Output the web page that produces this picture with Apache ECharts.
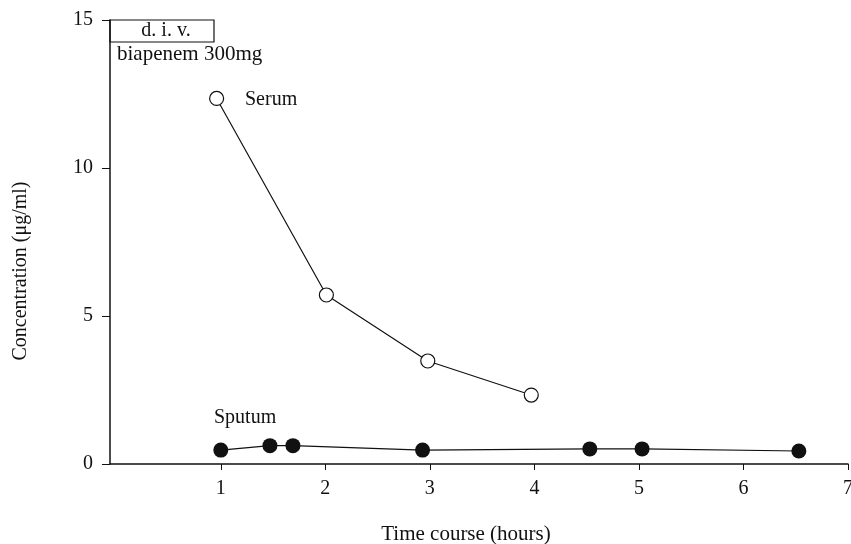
<!DOCTYPE html>
<html><head><meta charset="utf-8">
<script src="https://cdn.jsdelivr.net/npm/echarts@6/dist/echarts.min.js"></script>
<style>html,body{margin:0;padding:0;background:#fff}#c{width:851px;height:544px}</style>
</head><body><div id="c"></div>
<script>
const serumX = [0.96, 2.01, 2.98, 3.97];
const serumY = [12.35, 5.71, 3.48, 2.33];
const sputumX = [1.0, 1.47, 1.69, 2.93, 4.53, 5.03, 6.53];
const sputumY = [0.47, 0.62, 0.62, 0.47, 0.51, 0.51, 0.44];
const xTicks = [1, 2, 3, 4, 5, 6, 7];
const yTicks = [0, 5, 10, 15];

const font = 'Liberation Serif';
const chart = echarts.init(document.getElementById('c'), null, {renderer: 'canvas'});
chart.setOption({
  animation: false,
  backgroundColor: '#fff',
  grid: {left: 110, right: 3, top: 20, bottom: 80, containLabel: false, outerBoundsMode: 'none'},
  xAxis: {
    type: 'value', min: -0.06, max: 7,
    name: 'Time course (hours)', nameLocation: 'middle', nameGap: 60,
    nameTextStyle: {fontFamily: font, fontSize: 21, color: '#111', padding: [0, 26, 0, 0]},
    axisLine: {onZero: false, lineStyle: {color: '#111', width: 1.5}},
    axisTick: {show: true, length: 6, customValues: xTicks, lineStyle: {color: '#111'}},
    axisLabel: {customValues: xTicks, fontFamily: font, fontSize: 20, color: '#111', margin: 15},
    splitLine: {show: false}
  },
  yAxis: {
    type: 'value', min: 0, max: 15, interval: 5,
    axisLine: {show: true, onZero: false, lineStyle: {color: '#111', width: 1.5}},
    axisTick: {show: true, length: 8, customValues: yTicks, lineStyle: {color: '#111'}},
    axisLabel: {customValues: yTicks, fontFamily: font, fontSize: 20, color: '#111', margin: 17},
    splitLine: {show: false}
  },
  series: [
    {
      type: 'line', data: serumX.map((x, i) => [x, serumY[i]]),
      symbol: 'circle', symbolSize: 14,
      itemStyle: {color: '#fff', borderColor: '#111', borderWidth: 1.2},
      lineStyle: {color: '#111', width: 1.2}
    },
    {
      type: 'line', data: sputumX.map((x, i) => [x, sputumY[i]]),
      symbol: 'circle', symbolSize: 15,
      itemStyle: {color: '#111', borderColor: '#111', borderWidth: 0},
      lineStyle: {color: '#111', width: 1.2}
    }
  ],
  graphic: [
    {type: 'rect', shape: {x: 110, y: 20, width: 104, height: 22},
     style: {fill: '#fff', stroke: '#111', lineWidth: 1.2}},
    {type: 'text', x: 166, y: 31, style: {text: 'd. i. v.', font: '20px "Liberation Serif"', fill: '#111', align: 'center', verticalAlign: 'middle'}},
    {type: 'text', x: 117, y: 54, style: {text: 'biapenem 300mg', font: '21px "Liberation Serif"', fill: '#111', align: 'left', verticalAlign: 'middle'}},
    {type: 'text', x: 245, y: 100, style: {text: 'Serum', font: '20px "Liberation Serif"', fill: '#111', align: 'left', verticalAlign: 'middle'}},
    {type: 'text', x: 214, y: 418, style: {text: 'Sputum', font: '20px "Liberation Serif"', fill: '#111', align: 'left', verticalAlign: 'middle'}},
    {type: 'text', x: 21, y: 271, rotation: Math.PI / 2,
     style: {text: 'Concentration (μg/ml)', font: '20px "Liberation Serif"', fill: '#111', align: 'center', verticalAlign: 'middle'}}
  ]
});
</script></body></html>
